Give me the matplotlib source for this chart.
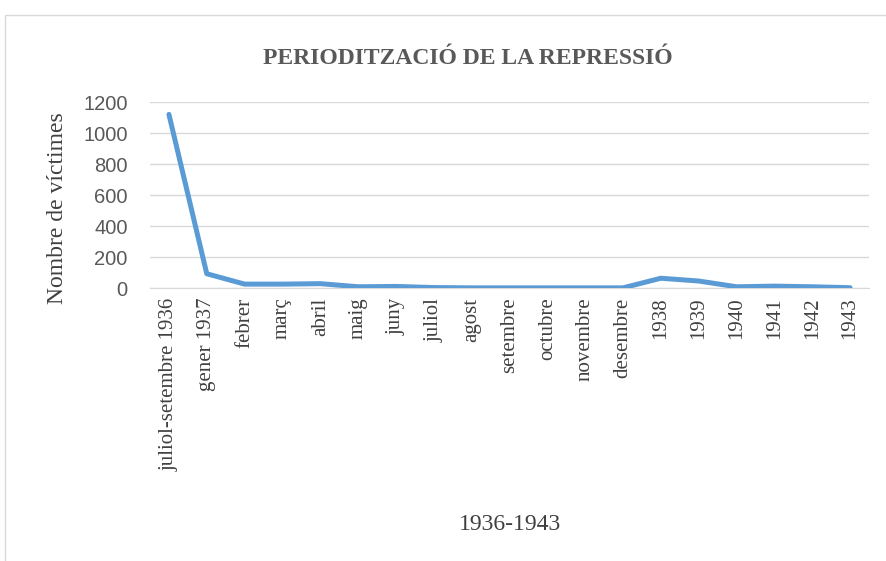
import matplotlib
matplotlib.use("Agg")
import matplotlib.pyplot as plt
from matplotlib.patches import Rectangle

categories = ["juliol-setembre 1936", "gener 1937", "febrer", "març", "abril", "maig",
              "juny", "juliol", "agost", "setembre", "octubre", "novembre", "desembre",
              "1938", "1939", "1940", "1941", "1942", "1943"]
values = [1120, 92, 25, 25, 28, 8, 10, 3, 1, 1, 1, 1, 1, 63, 45, 8, 12, 8, 2]
yticks = [0, 200, 400, 600, 800, 1000, 1200]

title = "PERIODITZACIÓ DE LA REPRESSIÓ"
xlabel = "1936-1943"
ylabel = "Nombre de víctimes"

serif = "Liberation Serif"
sans = "Liberation Sans"
gray = "#595959"

fig = plt.figure(figsize=(8.87, 5.61), dpi=100)
fig.patches.append(Rectangle((5/887, -0.1), 1.0, 1 - 15/561 + 0.1, transform=fig.transFigure,
                             fill=False, edgecolor="#d9d9d9", linewidth=1))

n = len(categories)
left = 150/887
right = 869/887
ax = fig.add_axes([left, 1 - 288/561, right - left, (288 - 102)/561])
x = list(range(n))
ax.plot(x, values, color="#5b9bd5", linewidth=3.6, solid_capstyle="round", solid_joinstyle="round", zorder=3)
ax.set_xlim(-0.5, n - 0.5)
ax.set_ylim(0, 1200)
ax.set_yticks(yticks)
ax.set_yticklabels([str(t) for t in yticks], fontfamily=sans, fontsize=14.5, color=gray)
ax.set_xticks(x)
ax.set_xticklabels(categories, rotation=90, fontfamily=serif, fontsize=15, color="#404040")
ax.tick_params(axis="both", length=0)
ax.tick_params(axis="x", pad=7)
ax.tick_params(axis="y", pad=16)
ax.grid(axis="y", color="#d9d9d9", linewidth=1)
ax.set_axisbelow(True)
for s in ["top", "right", "left"]:
    ax.spines[s].set_visible(False)
ax.spines["bottom"].set_color("#d9d9d9")

fig.text(0.527, 1 - 58/561, title, ha="center", va="center", fontfamily=serif,
         fontsize=17, fontweight="bold", color=gray)
fig.text(510/887, 1 - 525/561, xlabel, ha="center", va="center", fontfamily=serif,
         fontsize=17, color="#404040")
fig.text(58/887, 1 - 208/561, ylabel, ha="center", va="center", rotation=90,
         fontfamily=serif, fontsize=17, color="#404040")

fig.savefig("out.png", dpi=100)
